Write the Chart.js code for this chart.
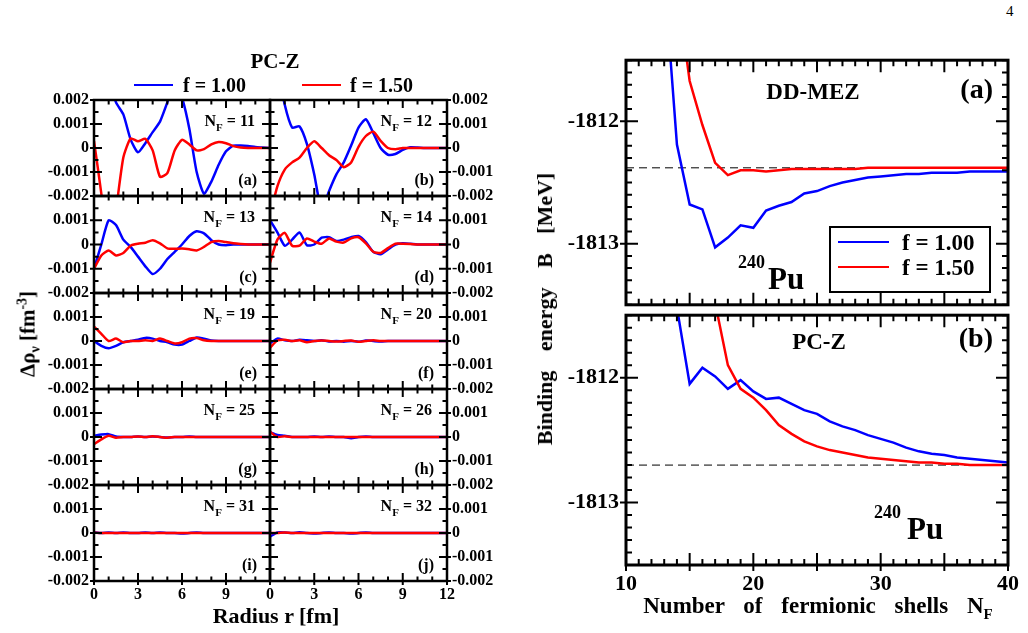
<!DOCTYPE html>
<html>
<head>
<meta charset="utf-8">
<script src="https://cdn.jsdelivr.net/npm/chart.js@4.4.1/dist/chart.umd.min.js"></script>
<style>
  html, body { margin: 0; padding: 0; background: #fff; }
  body {
    width: 1028px; height: 633px; position: relative; overflow: hidden;
    font-family: "Liberation Serif", "Times New Roman", serif; font-weight: bold; color: #000;
  }
  canvas { position: absolute; }
  .t { position: absolute; line-height: 1; white-space: nowrap; z-index: 5; }
  .ln { position: absolute; height: 0; border-top: 2.5px solid; z-index: 5; }
  .rot { position: absolute; line-height: 1; white-space: nowrap; transform: translate(-50%, -50%) rotate(-90deg); z-index: 5; }
  .box { position: absolute; border: 2px solid #000; background: #fff; z-index: 4; }
  sub, sup { line-height: 0; }
</style>
</head>
<body>

<div class="t" style="left:1006px;top:4px;font-size:15px;font-weight:normal">4</div>

<!-- left block -->
<div class="t" style="left:275px;top:51px;font-size:21px;transform:translateX(-50%)">PC-Z</div>
<div class="ln" style="left:134px;top:84px;width:39px;border-color:#0000ff"></div>
<div class="t" style="left:183px;top:75px;font-size:20px">f = 1.00</div>
<div class="ln" style="left:302px;top:84px;width:39px;border-color:#ff0000"></div>
<div class="t" style="left:350px;top:75px;font-size:20px">f = 1.50</div>
<div class="rot" style="left:28px;top:334px;font-size:21px">&Delta;&rho;<sub style="font-size:14px">&nu;</sub> [fm<sup style="font-size:14px">-3</sup>]</div>
<div class="t" style="left:276px;top:605px;font-size:22px;transform:translateX(-50%)">Radius r [fm]</div>

<!-- right block -->
<div class="t" style="left:813px;top:80px;font-size:23px;transform:translateX(-50%)">DD-MEZ</div>
<div class="t" style="right:35px;top:75px;font-size:28px">(a)</div>
<div class="t" style="left:738px;top:253px;font-size:18px">240</div>
<div class="t" style="left:768px;top:263px;font-size:31px">Pu</div>
<div class="box" style="left:829px;top:226px;width:158px;height:63px"></div>
<div class="ln" style="left:838px;top:241px;width:51px;border-color:#0000ff"></div>
<div class="t" style="left:902px;top:231px;font-size:23px">f = 1.00</div>
<div class="ln" style="left:838px;top:266px;width:51px;border-color:#ff0000"></div>
<div class="t" style="left:902px;top:256px;font-size:23px">f = 1.50</div>

<div class="t" style="left:819px;top:330px;font-size:23px;transform:translateX(-50%)">PC-Z</div>
<div class="t" style="right:35px;top:324px;font-size:28px">(b)</div>
<div class="t" style="left:874px;top:503px;font-size:18px">240</div>
<div class="t" style="left:907px;top:513px;font-size:31px">Pu</div>

<div class="rot" style="left:545px;top:309px;font-size:22px;word-spacing:14px">Binding energy B [MeV]</div>
<div class="t" style="left:818px;top:594px;font-size:23px;word-spacing:13px;transform:translateX(-50%)">Number of fermionic shells N<sub style="font-size:15px;vertical-align:-6px">F</sub></div>

<script>
// ---- data: density differences, radius grid (fm) ----
const radius = [0, 0.5, 1, 1.5, 2, 2.5, 3, 3.5, 4, 4.5, 5, 5.5, 6, 6.5, 7, 7.5, 8, 8.5, 9, 9.5, 10, 10.5, 11, 11.5, 12];

const blue11 = [0.006, 0.0045, 0.003, 0.0019, 0.0014, 0.00035, -0.00018, 0.0002, 0.00066, 0.0011, 0.0019, 0.0027, 0.0021, 0.0008, -0.001, -0.0019, -0.0014, -0.0007, -0.00014, 0.0001, 0.0001, 0.00008, 0.00004, 0.00002, 0];
const red11  = [0.0003, -0.0019, -0.0045, -0.0026, -0.0004, 0.0004, 0.00028, 0.00038, -0.0001, -0.0012, -0.00105, -0.0001, 0.00034, 0.00015, -0.0001, -0.00005, 0.00015, 0.00025, 0.0002, 0.00008, 0.00002, 0, 0, 0, 0];
const blue12 = [0.005, 0.0034, 0.0018, 0.00085, 0.0009, 0.00017, -0.0011, -0.0026, -0.0018, -0.0011, -0.0006, 0.0001, 0.00085, 0.0012, 0.00063, 0, -0.00028, -0.00025, -0.00008, 0.00003, 0.00002, 0, 0, 0, 0];
const red12  = [-0.0028, -0.0016, -0.0009, -0.0006, -0.0004, 0, 0.00028, 0, -0.0003, -0.0005, -0.0008, -0.0006, 0.00005, 0.0005, 0.00068, 0.0003, 0, -0.00005, 0, 0, 0, 0, 0, 0, 0];
const blue13 = [-0.001, 0, 0.001, 0.0008, 0.0002, -0.0001, -0.0005, -0.0009, -0.00122, -0.001, -0.0006, -0.0003, 0, 0.00035, 0.00055, 0.00046, 0.00018, 0, -0.00003, 0, 0, 0, 0, 0, 0];
const red13  = [-0.001, -0.00045, -0.00025, -0.00045, -0.00035, -0.00005, 0.00003, 0.00007, 0.00018, 0.00005, -0.00016, -0.00018, -0.00017, -0.0002, -0.00025, -0.0001, 0.0001, 0.00014, 0.0001, 0.00005, 0.00002, 0, 0, 0, 0];
const blue14 = [0.001, 0.0005, -0.00005, 0.0002, 0.0005, -0.00003, 0, 0.00028, 0.0003, 0.00015, 0.0002, 0.0003, 0.00035, 0.0001, -0.0003, -0.0004, -0.0002, 0, 0.00005, 0.00003, 0, 0, 0, 0, 0];
const red14  = [-0.00075, 0.0002, 0.00048, -0.00005, -0.00005, 0.00025, 0.00012, 0.00003, 0.00025, 0.00012, 0.00008, 0.00025, 0.0003, 0.00005, -0.0003, -0.00035, -0.00015, 0.00003, 0.00003, 0.00002, 0, 0, 0, 0, 0];
const blue19 = [0, -0.0002, -0.0003, -0.0002, -0.00005, 0, 0.00005, 0.00013, 0.0001, 0, -0.00005, -0.00015, -0.00015, 0, 0.00015, 0.0001, 0.00002, 0, 0, 0, 0, 0, 0, 0, 0];
const red19  = [0.0006, 0.0003, 0, 0.0001, -0.00005, 0, 0, 0.00003, 0, 0.0001, 0, -0.0001, -0.00005, 0.0001, 0.00012, 0.00003, 0, 0, 0, 0, 0, 0, 0, 0, 0];
const blue20 = [-0.0001, 0.0001, 0.00003, 0, 0.00005, 0.00003, 0, 0.00003, -0.00002, 0, -0.00003, 0, -0.00003, 0.00002, 0, -0.00002, 0, 0, 0, 0, 0, 0, 0, 0, 0];
const red20  = [-0.00028, 0.00002, 0.00005, 0, 0.00003, -0.00005, 0, 0.00002, 0, -0.00002, 0, 0.00002, -0.00003, 0, 0.00003, 0, 0, 0, 0, 0, 0, 0, 0, 0, 0];
const blue25 = [0.00005, 0.0001, 0.00012, 0.00002, 0, 0, 0.00002, 0, 0.00002, 0, -0.00002, 0, 0, 0.00002, 0, 0, 0, 0, 0, 0, 0, 0, 0, 0, 0];
const red25  = [-0.0003, -0.0001, 0.00005, -0.00003, 0, 0, 0.00002, 0, 0.00003, 0, -0.00003, 0, 0, 0, 0, 0, 0, 0, 0, 0, 0, 0, 0, 0, 0];
const blue26 = [0.0002, 0.00008, 0.00005, 0, 0, 0, 0.00002, 0, 0.00002, 0, 0, -0.00005, 0, 0.00002, 0, 0, 0, 0, 0, 0, 0, 0, 0, 0, 0];
const red26  = [0.00022, 0, 0.00003, 0, 0, 0, 0, 0, 0, 0, 0, 0, 0, 0, 0, 0, 0, 0, 0, 0, 0, 0, 0, 0, 0];
const blue31 = [0.00003, 0, 0.00002, 0, 0.00002, 0, 0, 0.00002, 0, 0.00002, 0, 0, -0.00002, 0, 0.00002, 0, 0, 0, 0, 0, 0, 0, 0, 0, 0];
const red31  = [0.00002, 0, 0, 0, 0, 0, 0, 0, 0, 0, 0, 0, 0, 0, 0, 0, 0, 0, 0, 0, 0, 0, 0, 0, 0];
const blue32 = [-0.00015, 0.00002, 0.00002, 0, 0.00003, 0, -0.00002, 0, 0.00002, 0, 0, -0.00002, 0, 0.00002, 0, 0, 0, 0, 0, 0, 0, 0, 0, 0, 0];
const red32  = [0, 0, 0.00002, 0, 0, 0, 0, 0, 0, 0, 0, 0, 0, 0, 0, 0, 0, 0, 0, 0, 0, 0, 0, 0, 0];

const rhoTicks = [-0.002, -0.001, 0, 0.001, 0.002];
const radiusTicks = [0, 3, 6, 9, 12];

// ---- data: binding energy vs number of shells ----
const shells = [13, 14, 15, 16, 17, 18, 19, 20, 21, 22, 23, 24, 25, 26, 27, 28, 29, 30, 31, 32, 33, 34, 35, 36, 37, 38, 39, 40];
const ddmezBlue = [-1810.8, -1812.19, -1812.68, -1812.72, -1813.03, -1812.95, -1812.85, -1812.87, -1812.73, -1812.69, -1812.66, -1812.59, -1812.57, -1812.53, -1812.50, -1812.48, -1812.46, -1812.45, -1812.44, -1812.43, -1812.43, -1812.42, -1812.42, -1812.42, -1812.41, -1812.41, -1812.41, -1812.41];
const ddmezRed  = [null, -1810.9, -1811.67, -1812.03, -1812.34, -1812.44, -1812.40, -1812.40, -1812.41, -1812.40, -1812.39, -1812.39, -1812.39, -1812.39, -1812.39, -1812.39, -1812.38, -1812.38, -1812.38, -1812.38, -1812.38, -1812.38, -1812.38, -1812.38, -1812.38, -1812.38, -1812.38, -1812.38];
const pczBlue = [null, -1811.44, -1812.05, -1811.92, -1811.99, -1812.09, -1812.02, -1812.11, -1812.17, -1812.16, -1812.21, -1812.26, -1812.29, -1812.35, -1812.39, -1812.42, -1812.46, -1812.49, -1812.52, -1812.56, -1812.59, -1812.61, -1812.62, -1812.64, -1812.65, -1812.66, -1812.67, -1812.68];
const pczRed  = [null, null, null, -1810.6, -1811.4, -1811.90, -1812.09, -1812.16, -1812.26, -1812.38, -1812.45, -1812.51, -1812.55, -1812.58, -1812.60, -1812.62, -1812.64, -1812.65, -1812.66, -1812.67, -1812.68, -1812.68, -1812.69, -1812.69, -1812.70, -1812.70, -1812.70, -1812.70];
const ddmezRef = -1812.38;
const pczRef = -1812.70;
const energyTicks = [-1813, -1812];
const shellTicks = [10, 20, 30, 40];

const BLUE = "#0000ff";
const RED = "#ff0000";
const FONT = "\"Liberation Serif\", \"Times New Roman\", serif";

// frame with inward ticks, like the original plotting program
const framePlugin = {
  id: "frame",
  afterDatasetsDraw(chart, args, o) {
    const { ctx, chartArea: a } = chart;
    const xs = chart.scales.x, ys = chart.scales.y;
    const on = (v, step) => Math.abs(v / step - Math.round(v / step)) < 1e-6;
    ctx.save();
    ctx.strokeStyle = "#000";
    ctx.lineWidth = o.tickWidth;
    ctx.beginPath();
    const nx = Math.round((xs.max - xs.min) / o.xMinor);
    for (let i = 0; i <= nx; i++) {
      const v = xs.min + i * o.xMinor;
      const p = xs.getPixelForValue(v);
      const major = on(v, o.xMajor);
      const len = major ? o.major : o.minor;
      ctx.moveTo(p, a.bottom + (major && o.outBottom ? o.out : 0));
      ctx.lineTo(p, a.bottom - len);
      ctx.moveTo(p, a.top);
      ctx.lineTo(p, a.top + len);
    }
    const ny = Math.round((ys.max - ys.min) / o.yMinor);
    for (let i = 0; i <= ny; i++) {
      const v = ys.min + i * o.yMinor;
      const p = ys.getPixelForValue(v);
      const major = on(v, o.yMajor);
      const len = major ? o.major : o.minor;
      ctx.moveTo(a.left - (major && o.outLeft ? o.out : 0), p);
      ctx.lineTo(a.left + len, p);
      ctx.moveTo(a.right + (major && o.outRight ? o.out : 0), p);
      ctx.lineTo(a.right - len, p);
    }
    ctx.stroke();
    ctx.lineWidth = o.frameWidth;
    ctx.strokeRect(a.left, a.top, a.right - a.left, a.bottom - a.top);

    if (o.nf) {
      ctx.fillStyle = "#000";
      ctx.textBaseline = "alphabetic";
      const big = `bold 16px ${FONT}`, small = `bold 11px ${FONT}`;
      const rest = ` = ${o.nf}`;
      ctx.font = big;
      const wN = ctx.measureText("N").width, wR = ctx.measureText(rest).width;
      ctx.font = small;
      const wF = ctx.measureText("F").width;
      let x = a.right - 15 - wN - wF - wR;
      const y = a.top + 26;
      ctx.font = big; ctx.fillText("N", x, y); x += wN;
      ctx.font = small; ctx.fillText("F", x, y + 5); x += wF;
      ctx.font = big; ctx.fillText(rest, x, y);
      ctx.font = `bold 16px ${FONT}`;
      ctx.textAlign = "right";
      ctx.fillText(o.tag, a.right - 13, a.bottom - 11);
    }
    ctx.restore();
  }
};

const rowEdges = [100, 196, 293, 389, 485, 581];

const panels = [
  { nf: 11, tag: "(a)", blue: blue11, red: red11, col: 0, row: 0 },
  { nf: 12, tag: "(b)", blue: blue12, red: red12, col: 1, row: 0 },
  { nf: 13, tag: "(c)", blue: blue13, red: red13, col: 0, row: 1 },
  { nf: 14, tag: "(d)", blue: blue14, red: red14, col: 1, row: 1 },
  { nf: 19, tag: "(e)", blue: blue19, red: red19, col: 0, row: 2 },
  { nf: 20, tag: "(f)", blue: blue20, red: red20, col: 1, row: 2 },
  { nf: 25, tag: "(g)", blue: blue25, red: red25, col: 0, row: 3 },
  { nf: 26, tag: "(h)", blue: blue26, red: red26, col: 1, row: 3 },
  { nf: 31, tag: "(i)", blue: blue31, red: red31, col: 0, row: 4 },
  { nf: 32, tag: "(j)", blue: blue32, red: red32, col: 1, row: 4 }
];

function addCanvas(left, top, w, h) {
  const c = document.createElement("canvas");
  c.width = w; c.height = h;
  c.style.left = left + "px";
  c.style.top = top + "px";
  document.body.appendChild(c);
  return c;
}

const fixedTicks = list => s => { s.ticks = list.map(v => ({ value: v })); };

function rhoLabel(v, row) {
  if (Math.abs(v) < 1e-9) return "0";
  if (v > 0.0015 && row > 0) return "";
  return v.toFixed(3);
}

function smallPanel(p) {
  const top = rowEdges[p.row], bottom = rowEdges[p.row + 1];
  const last = p.row === 4;
  const canvas = addCanvas(p.col === 0 ? 20 : 250, top - 15, 270, bottom - top + (last ? 45 : 30));
  const series = (vals, color, order) => ({
    data: radius.map((r, i) => ({ x: r, y: vals[i] })),
    borderColor: color, borderWidth: 2.5, tension: 0.2, pointRadius: 0, clip: 0, order
  });
  new Chart(canvas, {
    type: "line",
    data: { datasets: [series(p.red, RED, 0), series(p.blue, BLUE, 1)] },
    options: {
      responsive: false, animation: false, events: [],
      layout: { padding: { left: p.col ? 20 : 0, right: p.col ? 0 : 20, top: 15, bottom: last ? 5 : 15 } },
      plugins: {
        legend: { display: false }, tooltip: { enabled: false },
        frame: {
          xMajor: 3, xMinor: 1, yMajor: 0.001, yMinor: 0.0005, major: 8, minor: 4.5, out: 4,
          outLeft: p.col === 0, outRight: p.col === 1, outBottom: last,
          frameWidth: 2.5, tickWidth: 2, nf: p.nf, tag: p.tag
        }
      },
      scales: {
        x: {
          type: "linear", min: 0, max: 12,
          grid: { display: false, drawTicks: false }, border: { display: false },
          afterBuildTicks: fixedTicks(radiusTicks),
          ticks: {
            display: last, autoSkip: false, maxRotation: 0, padding: 4, color: "#000",
            font: { family: FONT, size: 16, weight: "bold" },
            callback: v => (p.col === 0 && v === 12) ? "" : String(v)
          },
          afterFit: s => { s.height = last ? 25 : 0; }
        },
        y: {
          type: "linear", position: p.col ? "right" : "left", min: -0.002, max: 0.002,
          grid: { display: false, drawTicks: false }, border: { display: false },
          afterBuildTicks: fixedTicks(rhoTicks),
          ticks: {
            autoSkip: false, padding: 5, color: "#000",
            font: { family: FONT, size: 16, weight: "bold" },
            callback: v => rhoLabel(v, p.row)
          },
          afterFit: s => { s.width = p.col ? 73 : 74; }
        }
      }
    },
    plugins: [framePlugin]
  });
}

function bigPanel(top, h, blue, red, ref, showX) {
  const canvas = addCanvas(540, top, 490, h);
  const series = (vals, color, order) => ({
    data: shells.map((n, i) => ({ x: n, y: vals[i] })),
    borderColor: color, borderWidth: 2.5, tension: 0, pointRadius: 0, clip: 0, order
  });
  new Chart(canvas, {
    type: "line",
    data: {
      datasets: [
        series(red, RED, 0),
        series(blue, BLUE, 1),
        {
          data: [{ x: shellTicks[0], y: ref }, { x: shellTicks[shellTicks.length - 1], y: ref }],
          borderColor: "#000", borderWidth: 1, borderDash: [8, 5], pointRadius: 0, clip: 0, order: 2
        }
      ]
    },
    options: {
      responsive: false, animation: false, events: [],
      layout: { padding: { left: 0, right: 22, top: 15, bottom: showX ? 0 : 15 } },
      plugins: {
        legend: { display: false }, tooltip: { enabled: false },
        frame: {
          xMajor: 5, xMinor: 1, yMajor: 1, yMinor: 0.1, major: 12, minor: 6, out: 6,
          outLeft: true, outRight: false, outBottom: showX, frameWidth: 3, tickWidth: 2
        }
      },
      scales: {
        x: {
          type: "linear", min: shellTicks[0], max: shellTicks[shellTicks.length - 1],
          grid: { display: false, drawTicks: false }, border: { display: false },
          afterBuildTicks: fixedTicks(shellTicks),
          ticks: {
            display: showX, autoSkip: false, maxRotation: 0, padding: 6, color: "#000",
            font: { family: FONT, size: 22, weight: "bold" }
          },
          afterFit: s => { s.height = showX ? 40 : 0; }
        },
        y: {
          type: "linear", min: -1813.5, max: -1811.5,
          grid: { display: false, drawTicks: false }, border: { display: false },
          afterBuildTicks: fixedTicks(energyTicks),
          ticks: {
            autoSkip: false, padding: 7, color: "#000",
            font: { family: FONT, size: 22, weight: "bold" },
            callback: v => String(v)
          },
          afterFit: s => { s.width = 86; }
        }
      }
    },
    plugins: [framePlugin]
  });
}

panels.forEach(smallPanel);
bigPanel(295, 310, pczBlue, pczRed, pczRef, true);
bigPanel(40, 285, ddmezBlue, ddmezRed, ddmezRef, false);
</script>
</body>
</html>
